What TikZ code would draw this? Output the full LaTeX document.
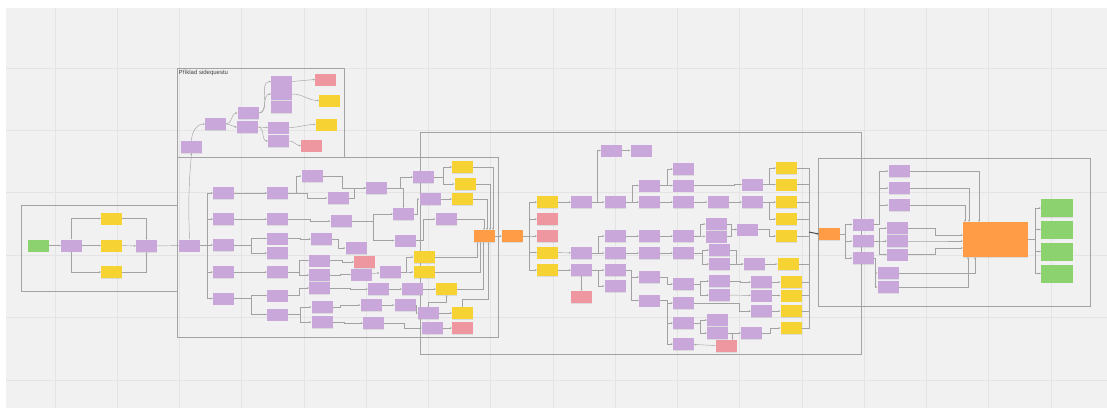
\documentclass[tikz,border=0pt]{standalone}
\usepackage{fontspec}
\setmainfont{Liberation Sans}
\usetikzlibrary{arrows.meta,calc,positioning,shadows}

\definecolor{notepurple}{HTML}{C9A7DB}
\definecolor{noteyellow}{HTML}{F6D232}
\definecolor{notepink}{HTML}{EF97A1}
\definecolor{notegreen}{HTML}{8CD26E}
\definecolor{noteorange}{HTML}{FF9C45}
\definecolor{canvas}{HTML}{F1F1F1}
\definecolor{gridline}{HTML}{E4E4E4}
\definecolor{framegray}{HTML}{A3A3A3}
\definecolor{linkgray}{HTML}{A2A2A2}

\begin{document}
\begin{tikzpicture}[x=1pt,y=-1pt,
        note/.style={rectangle, minimum width=21pt, minimum height=12pt, inner sep=0pt,
          drop shadow={shadow xshift=0pt, shadow yshift=-0.7pt, opacity=0.18}},
        pnote/.style={note, fill=notepurple},
        ynote/.style={note, fill=noteyellow},
        rnote/.style={note, fill=notepink},
        onote/.style={note, fill=noteorange},
        gnote/.style={note, fill=notegreen},
        questbox/.style={draw=framegray, line width=0.7pt},
        con/.style={->, draw=linkgray, line width=0.45pt},
        >={Stealth[length=2pt,width=1.8pt]}
      ]

  % canvas and grid
  \useasboundingbox (0,0) rectangle (1107,408);
  \fill[white] (0,0) rectangle (1107,408);
  \fill[canvas] (6,8) rectangle (1107,408);
  \foreach \gx in {0,...,16} \draw[gridline, line width=0.8pt] (55+62.25*\gx,8) -- (55+62.25*\gx,408);
  \foreach \gy in {0,...,5} \draw[gridline, line width=0.8pt] (6,68+62.4*\gy) -- (1107,68+62.4*\gy);

  % frames
  \draw[questbox] (21,205) rectangle (177,291);
  \draw[questbox] (177,68) rectangle (344,157);
  \node[anchor=north west, inner sep=0pt, text=black!75, font=\fontsize{6}{7}\selectfont] (sqtitle) at (178.5,70) {Příklad sidequestu};
  \draw[questbox] (177,157) rectangle (498,337);
  \draw[questbox] (420,132) rectangle (861,354);
  \draw[questbox] (818,158) rectangle (1090,306);

  % start
  \node[gnote] (g0) at (38,245.5) {};
  \node[pnote] (a1) at (71.5,245.5) {};
  \node[ynote] (y1) at (111.5,218.5) {};
  \node[ynote] (y2) at (111.5,245.5) {};
  \node[ynote] (y3) at (111.5,272) {};
  \node[pnote] (a2) at (146.5,246) {};
  \node[pnote] (a3) at (189.5,245.5) {};

  % sidequest
  \node[pnote] (s1) at (191.5,147) {};
  \node[pnote] (s2) at (215.5,124) {};
  \node[pnote] (s3) at (248,113) {};
  \node[pnote] (s4) at (247.5,127) {};
  \node[pnote] (s5) at (281.5,81.5) {};
  \node[pnote] (s6) at (281.5,94) {};
  \node[pnote] (s7) at (281.5,107) {};
  \node[pnote] (s8) at (278.5,127.5) {};
  \node[pnote] (s9) at (278.5,141) {};
  \node[rnote] (sr1) at (325.5,79.5) {};
  \node[ynote] (sy1) at (329.5,100.5) {};
  \node[ynote] (sy2) at (326,124.5) {};
  \node[rnote] (sr2) at (311.5,145.5) {};

  % first act
  \node[pnote] (b1) at (223.5,193) {};
  \node[pnote] (b2) at (223.5,219) {};
  \node[pnote] (b3) at (223.5,245) {};
  \node[pnote] (b4) at (223.5,272) {};
  \node[pnote] (b5) at (223.5,298.5) {};
  \node[pnote] (c1) at (277.5,193) {};
  \node[pnote] (c2) at (277.5,219) {};
  \node[pnote] (c3) at (277.5,238.5) {};
  \node[pnote] (c4) at (277.5,253) {};
  \node[pnote] (c5) at (277.5,272) {};
  \node[pnote] (c6) at (277.5,295.5) {};
  \node[pnote] (c7) at (277.5,314.5) {};
  \node[pnote] (d1) at (312,176) {};
  \node[pnote] (d2) at (338,198) {};
  \node[pnote] (d3) at (341,221) {};
  \node[pnote] (d4) at (321.5,239) {};
  \node[pnote] (d5) at (319.5,260.5) {};
  \node[pnote] (d6) at (319.5,275) {};
  \node[pnote] (d7) at (319.5,288) {};
  \node[pnote] (d8) at (322,307) {};
  \node[pnote] (d9) at (322,322) {};
  \node[pnote] (e1) at (376.5,188) {};
  \node[pnote] (e3) at (356,248) {};
  \node[rnote] (pr1) at (364.5,262) {};
  \node[pnote] (e4) at (361.5,274.5) {};
  \node[pnote] (e5) at (378.5,289) {};
  \node[pnote] (e6) at (371,305) {};
  \node[pnote] (e7) at (373.5,323) {};
  \node[pnote] (f1) at (423.5,177) {};
  \node[pnote] (f2) at (430,199) {};
  \node[pnote] (f3) at (403.5,214) {};
  \node[pnote] (f4) at (446,219) {};
  \node[pnote] (f5) at (405,240.5) {};
  \node[pnote] (f6) at (390,272) {};
  \node[pnote] (f7) at (412.5,289) {};
  \node[pnote] (f8) at (405,305) {};
  \node[pnote] (g1) at (428.5,313) {};
  \node[pnote] (g2) at (432.5,328) {};
  \node[ynote] (yA) at (462.5,167) {};
  \node[ynote] (yB) at (465,184) {};
  \node[ynote] (yC) at (462.5,199) {};
  \node[ynote] (yD) at (424,257) {};
  \node[ynote] (yE) at (424,272) {};
  \node[ynote] (yF) at (446.5,289) {};
  \node[ynote] (yG) at (462.5,313) {};
  \node[rnote] (pk2) at (462.5,328) {};
  \node[onote] (o1) at (484.5,236) {};
  \node[onote] (o2) at (512.5,236) {};

  % second act
  \node[ynote] (m1y) at (547.5,202) {};
  \node[rnote] (m2r) at (547.5,219) {};
  \node[rnote] (m3r) at (547.5,236) {};
  \node[ynote] (m4y) at (547.5,252.5) {};
  \node[ynote] (m5y) at (547.5,270) {};
  \node[pnote] (n1) at (581.5,202) {};
  \node[pnote] (n2) at (581.5,253) {};
  \node[pnote] (n3) at (581.5,270) {};
  \node[rnote] (pk3) at (581.5,297) {};
  \node[pnote] (q1) at (611.5,150.5) {};
  \node[pnote] (q2) at (641,150.5) {};
  \node[pnote] (p1) at (615,202) {};
  \node[pnote] (p2) at (615,236) {};
  \node[pnote] (p3) at (615,253) {};
  \node[pnote] (p4) at (615,270) {};
  \node[pnote] (p5) at (615,286) {};
  \node[pnote] (r1) at (649.5,185.5) {};
  \node[pnote] (r2) at (649.5,202) {};
  \node[pnote] (r3) at (649.5,236) {};
  \node[pnote] (r4) at (649.5,253) {};
  \node[pnote] (r5) at (649.5,277) {};
  \node[pnote] (r6) at (649.5,300.5) {};
  \node[pnote] (t1) at (683.5,169) {};
  \node[pnote] (t2) at (683.5,185.5) {};
  \node[pnote] (t3) at (683.5,202) {};
  \node[pnote] (t4) at (683.5,236) {};
  \node[pnote] (t5) at (683.5,253) {};
  \node[pnote] (t6) at (683.5,284) {};
  \node[pnote] (t7) at (683.5,303) {};
  \node[pnote] (t8) at (683.5,323) {};
  \node[pnote] (t9) at (683.5,344) {};
  \node[pnote] (u1) at (718,202) {};
  \node[pnote] (u2) at (716,224) {};
  \node[pnote] (u3) at (716,236.5) {};
  \node[pnote] (u4) at (719.5,250) {};
  \node[pnote] (u5) at (719.5,264) {};
  \node[pnote] (u6) at (719.5,281) {};
  \node[pnote] (u7) at (719.5,295) {};
  \node[pnote] (x1) at (717.5,320) {};
  \node[pnote] (x2) at (717.5,333) {};
  \node[rnote] (pk4) at (726.5,346) {};
  \node[pnote] (v1) at (752.5,184.5) {};
  \node[pnote] (v2) at (752.5,202) {};
  \node[pnote] (v3) at (747.5,229.5) {};
  \node[pnote] (v4) at (754,264) {};
  \node[pnote] (v5) at (761.5,282) {};
  \node[pnote] (v6) at (761.5,295.5) {};
  \node[pnote] (v7) at (761.5,311) {};
  \node[pnote] (vx) at (751.5,333) {};
  \node[ynote] (w1y) at (786.5,168) {};
  \node[ynote] (w2y) at (786.5,184.5) {};
  \node[ynote] (w3y) at (786.5,202) {};
  \node[ynote] (w4y) at (786.5,219) {};
  \node[ynote] (w5y) at (786.5,236) {};
  \node[ynote] (w6y) at (788,264) {};
  \node[ynote] (w7y) at (791,282) {};
  \node[ynote] (w8y) at (791,295.5) {};
  \node[ynote] (w9y) at (791,311) {};
  \node[ynote] (w10y) at (791,328) {};
  \coordinate (bus) at (809,232);

  % finale
  \node[onote] (o3) at (829.5,234) {};
  \node[pnote] (h1) at (863,224.5) {};
  \node[pnote] (h2) at (863,241) {};
  \node[pnote] (h3) at (863,258) {};
  \node[pnote] (k1) at (899,171) {};
  \node[pnote] (k2) at (899,188) {};
  \node[pnote] (k3) at (899,205) {};
  \node[pnote] (k4) at (897.5,228) {};
  \node[pnote] (k5) at (897.5,241) {};
  \node[pnote] (k6) at (897.5,254.5) {};
  \node[pnote] (k7) at (888,273) {};
  \node[pnote] (k8) at (888,287) {};
  \node[onote, minimum width=65pt, minimum height=35pt] (big) at (995.5,239.5) {};
  \node[gnote, minimum width=32pt, minimum height=18pt] (gr1) at (1057,208) {};
  \node[gnote, minimum width=32pt, minimum height=18pt] (gr2) at (1057,229.5) {};
  \node[gnote, minimum width=32pt, minimum height=18pt] (gr3) at (1057,251.5) {};
  \node[gnote, minimum width=32pt, minimum height=18pt] (gr4) at (1057,273.5) {};

  % start links
  \draw[con] (g0) -- (a1);
  \draw[con] (a1.north) |- (y1.west);
  \draw[con] (a1) -- (y2);
  \draw[con] (a1.south) |- (y3.west);
  \draw[con] (y1.east) -| (a2.north);
  \draw[con] (y2) -- (a2);
  \draw[con] (y3.east) -| (a2.south);
  \draw[con] (a2) -- (a3);
  \draw[con] (a3.north) to[out=92,in=-95] (s1.south);

  % sidequest links
  \draw[con] (s1.north) to[out=90,in=180] (s2.west);
  \draw[con] (s2.east) to[out=0,in=180] (s3.west);
  \draw[con] (s2.east) to[out=0,in=180] (s4.west);
  \draw[con] (s3.east) to[out=0,in=180] (s5.west);
  \draw[con] (s3.east) to[out=0,in=180] (s6.west);
  \draw[con] (s4.east) to[out=0,in=180] (s8.west);
  \draw[con] (s4.east) to[out=0,in=180] (s9.west);
  \draw[con] (s5.east) -- (sr1.west);
  \draw[con] (s6.east) to[out=0,in=180] (sy1.west);
  \draw[con] (s8.east) to[out=0,in=180] (sy2.west);
  \draw[con] (s9.east) to[out=0,in=180] (sr2.west);

  % first act links
  \foreach \n in {b1,b2,b3,b4,b5} \draw[con] (a3.east) -- ++(7,0) |- (\n.west);
  \draw[con] (b1) -- (c1);
  \draw[con] (b2) -- (c2);
  \draw[con] (b3.east) -- ++(17,0) |- (c3.west);
  \draw[con] (b3.east) -- ++(17,0) |- (c4.west);
  \draw[con] (b4) -- (c5);
  \draw[con] (b5.east) -- ++(17,0) |- (c6.west);
  \draw[con] (b5.east) -- ++(17,0) |- (c7.west);
  \draw[con] (c1.east) -- ++(8,0) |- (d1.west);
  \draw[con] (c1.east) -- ++(19,0) |- (d2.west);
  \draw[con] (c2.east) -- ++(22,0) |- (d3.west);
  \draw[con] (c3.east) -- ++(12,0) |- (d4.west);
  \draw[con] (c5.east) -- ++(11,0) |- (d5.west);
  \draw[con] (c5.east) -- ++(11,0) |- (d6.west);
  \draw[con] (c6.east) -- ++(11,0) |- (d7.west);
  \draw[con] (c7.east) -- ++(12,0) |- (d8.west);
  \draw[con] (c7.east) -- ++(12,0) |- (d9.west);
  \draw[con] (d1.east) -- ++(20,0) |- (e1.west);
  \draw[con] (d2.east) -- ++(6,0) |- (e1.west);
  \draw[con] (e1.east) -| (f3.north);
  \draw[con] (e1.east) -- ++(13,0) |- (f1.west);
  \draw[con] (d3.east) -- ++(22,0) |- (f3.west);
  \draw[con] (d3.east) -- ++(22,0) |- (f5.west);
  \draw[con] (f1.east) -- ++(9,0) |- (yA.west);
  \draw[con] (f1.east) -- ++(9,0) |- (yB.west);
  \draw[con] (f3.east) -- ++(3,0) |- (f2.west);
  \draw[con] (f2) -- (yC);
  \draw[con] (f5.east) -- ++(8,0) |- (f4.west);
  \draw[con] (d4.east) -- ++(6,0) |- (e3.west);
  \draw[con] (d5.east) -- ++(12,0) |- (pr1.west);
  \draw[con] (d6.east) -- ++(10,0) |- (e4.west);
  \draw[con] (e4) -- (f6);
  \draw[con] (f6.east) -- ++(6,0) |- (yD.west);
  \draw[con] (f6.east) -- ++(6,0) |- (yE.west);
  \draw[con] (d7.east) -- ++(20,0) |- (e5.west);
  \draw[con] (e5) -- (f7);
  \draw[con] (f7) -- (yF);
  \draw[con] (d8.east) -- ++(8,0) |- (e6.west);
  \draw[con] (e6) -- (f8);
  \draw[con] (f8.east) -- ++(1,0) |- (g1.west);
  \draw[con] (g1) -- (yG);
  \draw[con] (g1.north) -- ++(0,-5) -| (yF.south);
  \draw[con] (d9.east) -- ++(12,0) |- (e7.west);
  \draw[con] (e7.east) -- ++(20,0) |- (g2.west);
  \draw[con] (g2) -- (pk2);
  \draw[con] (yA.east) -| ([xshift=8.5pt]o1.north);
  \draw[con] (yB.east) -| ([xshift=5.5pt]o1.north);
  \draw[con] (yC.east) -| ([xshift=2.5pt]o1.north);
  \draw[con] (f4.east) -| ([xshift=-0.5pt]o1.north);
  \draw[con] (yD.east) -| ([xshift=-7pt]o1.south);
  \draw[con] (yE.east) -| ([xshift=-4pt]o1.south);
  \draw[con] (yF.east) -| ([xshift=-1pt]o1.south);
  \draw[con] (yG.north) -- ++(0,-8) -| ([xshift=4pt]o1.south);
  \draw[con] (o1) -- (o2);

  % second act links
  \foreach \n in {m1y,m2r,m3r,m4y,m5y} \draw[con] (o2.east) -- ++(6,0) |- (\n.west);
  \draw[con] (m1y) -- (n1);
  \draw[con] (m4y) -- (n2);
  \draw[con] (m5y) -- (n3);
  \draw[con] (n3) -- (pk3);
  \draw[con] (n1.east) -- ++(5,0) |- (q1.west);
  \draw[con] (n1) -- (p1);
  \draw[con] (q1) -- (q2);
  \draw[con] (p1.east) -- ++(7,0) |- (r1.west);
  \draw[con] (p1) -- (r2);
  \draw[con] (r1.east) -- ++(7,0) |- (t1.west);
  \draw[con] (r1) -- (t2);
  \draw[con] (r2) -- (t3);
  \draw[con] (t3) -- (u1);
  \draw[con] (t2.east) -- ++(40,0) |- (v1.west);
  \draw[con] (u1) -- (v2);
  \draw[con] (v1.east) -- ++(6,0) |- (w1y.west);
  \draw[con] (v1) -- (w2y);
  \draw[con] (v2) -- (w3y);
  \draw[con] (v2.east) -- ++(6,0) |- (w4y.west);
  \draw[con] (v3.east) -- ++(11,0) |- (w5y.west);
  \draw[con] (n2.east) -- ++(6,0) |- (p2.west);
  \draw[con] (n2) -- (p3);
  \draw[con] (n3) -- (p4);
  \draw[con] (n3.east) -- ++(6,0) |- (p5.west);
  \draw[con] (p2) -- (r3);
  \draw[con] (r3) -- (t4);
  \draw[con] (t4.east) -- ++(6,0) |- (u2.west);
  \draw[con] (t4) -- (u3);
  \draw[con] (u2.east) -- ++(5,0) |- (v3.west);
  \draw[con] (u3.east) -- ++(5,0) |- (v3.west);
  \draw[con] (p3) -- (r4);
  \draw[con] (r4) -- (t5);
  \draw[con] (t5.east) -- ++(8,0) |- (u4.west);
  \draw[con] (t5.east) -- ++(8,0) |- (u5.west);
  \draw[con] (u4.east) -- ++(6,0) |- (v4.west);
  \draw[con] (u5) -- (v4);
  \draw[con] (v4) -- (w6y);
  \draw[con] (p4.east) -- ++(6,0) |- (r5.west);
  \draw[con] (p4.east) -- ++(6,0) |- (r6.west);
  \draw[con] (r5.east) -- ++(7,0) |- (t6.west);
  \draw[con] (r6.east) -- ++(7,0) |- (t7.west);
  \draw[con] (r6.east) -- ++(7,0) |- (t8.west);
  \draw[con] (r6.east) -- ++(7,0) |- (t9.west);
  \draw[con] (t6.east) -- ++(6,0) |- (u6.west);
  \draw[con] (t6.east) -- ++(6,0) |- (u7.west);
  \draw[con] (u6.east) -- ++(10,0) |- (v5.west);
  \draw[con] (u7) -- (v6);
  \draw[con] (t7.east) -- ++(45,0) |- (v7.west);
  \draw[con] (t8.east) -- ++(6,0) |- (x1.west);
  \draw[con] (t8.east) -- ++(6,0) |- (x2.west);
  \draw[con] (x2) -- (vx);
  \draw[con] (x2.east) -| ([xshift=6pt]pk4.north);
  \draw[con] (pk4) -- (t9);
  \draw[con] (v5) -- (w7y);
  \draw[con] (v6) -- (w8y);
  \draw[con] (v7) -- (w9y);
  \draw[con] (vx.east) -- ++(8,0) |- (w10y.west);
  \foreach \n in {w1y,w2y,w3y,w4y,w5y,w6y,w7y,w8y,w9y,w10y} \draw[linkgray, line width=0.5pt] (\n.east) -| (bus);
  \draw[con, draw=black!70, line width=1pt] (bus) -- (o3.west);

  % finale links
  \foreach \n in {h1,h2,h3} \draw[con] (o3.east) -- ++(5,0) |- (\n.west);
  \foreach \n in {k1,k2,k3} \draw[con] (h1.east) -- ++(6,0) |- (\n.west);
  \foreach \n in {k4,k5,k6} \draw[con] (h2.east) -- ++(6,0) |- (\n.west);
  \draw[con] (h3.east) -- ++(1.5,0) |- (k7.west);
  \draw[con] (h3.east) -- ++(1.5,0) |- (k8.west);
  \draw[con] (k1.east) -| ([xshift=-16.5pt]big.north);
  \draw[con] (k2.east) -| ([xshift=-26.5pt]big.north);
  \draw[con] (k3.east) -| ([xshift=-30.5pt]big.north);
  \draw[con] (k4.east) -- ++(27,0) |- ([yshift=4.5pt]big.west);
  \draw[con] (k5.east) -- ++(27,0) |- ([yshift=-1.5pt]big.west);
  \draw[con] (k6.east) -- ++(27,0) |- ([yshift=-8.5pt]big.west);
  \draw[con] (k7.east) -| ([xshift=-20.5pt]big.south);
  \draw[con] (k8.east) -| ([xshift=-27.5pt]big.south);
  \foreach \n in {gr1,gr2,gr3,gr4} \draw[con] (big.east) -- ++(7,0) |- (\n.west);
\end{tikzpicture}
\end{document}
